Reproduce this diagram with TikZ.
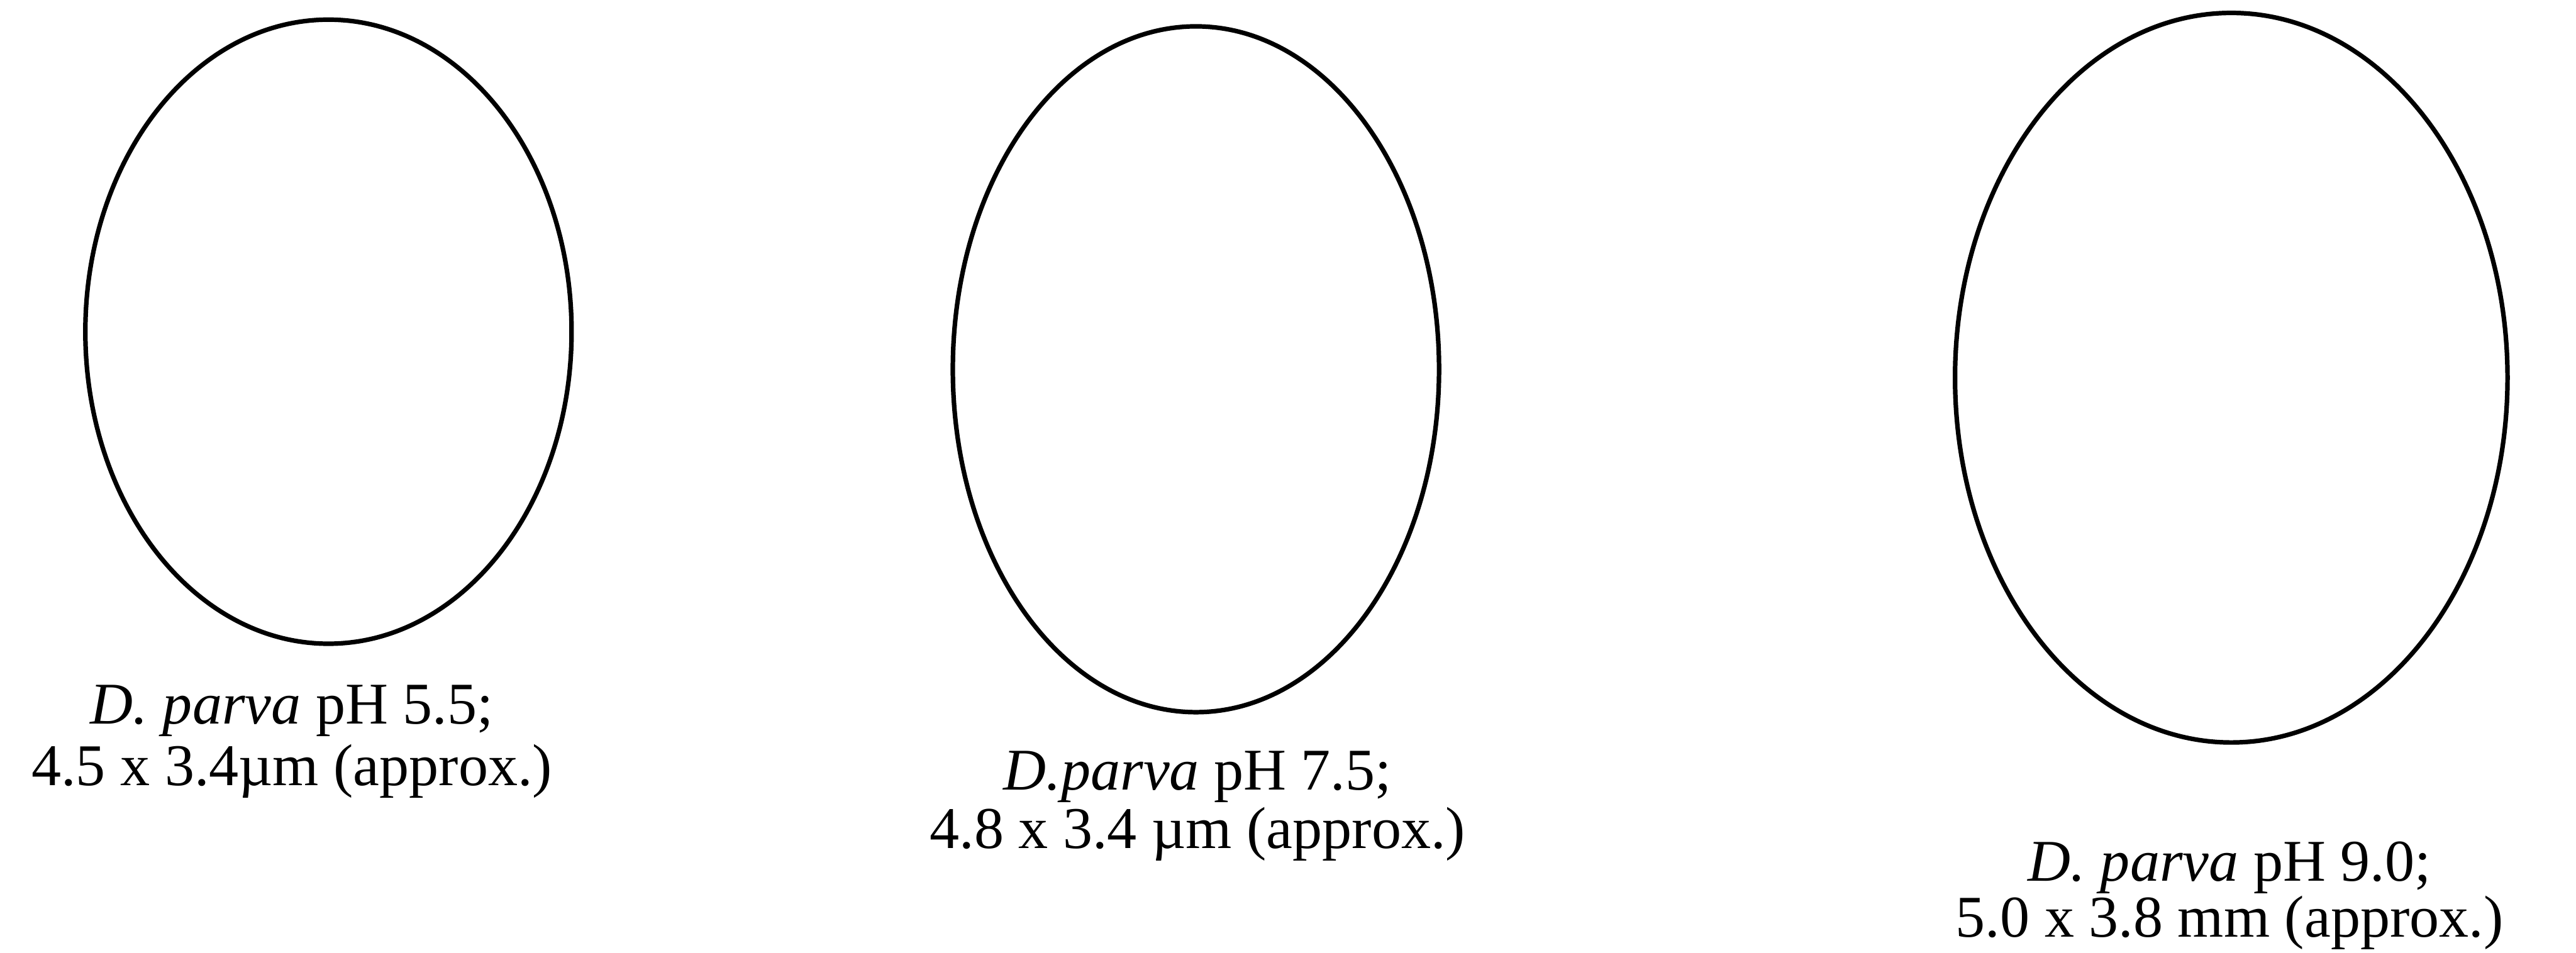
\documentclass[tikz,border=0pt]{standalone}
\usepackage{fontspec}
\setmainfont{Liberation Serif}
\usetikzlibrary{shapes.geometric}
\begin{document}
\begin{tikzpicture}[
  cell/.style={draw=black, line width=2.3pt, ellipse, inner sep=0pt},
  lbl/.style={anchor=base, inner sep=0pt, font=\fontsize{30}{32}\selectfont}
]
\useasboundingbox (0,0) rectangle (45.88,-16.98);
\node[cell, minimum width=8.66cm, minimum height=11.12cm] (e1) at (5.85,-5.91) {};
\node[cell, minimum width=8.66cm, minimum height=12.22cm] (e2) at (21.30,-6.58) {};
\node[cell, minimum width=9.84cm, minimum height=13.00cm] (e3) at (39.74,-6.73) {};
\node[lbl] (t1a) at (5.20,-12.90) {\textit{D. parva} pH 5.5;};
\node[lbl] (t1b) at (5.20,-14.00) {4.5 x 3.4µm (approx.)};
\node[lbl] (t2a) at (21.33,-14.07) {\textit{D.parva} pH 7.5;};
\node[lbl] (t2b) at (21.33,-15.12) {4.8 x 3.4 µm (approx.)};
\node[lbl] (t3a) at (39.71,-15.70) {\textit{D. parva} pH 9.0;};
\node[lbl] (t3b) at (39.71,-16.70) {5.0 x 3.8 mm (approx.)};
\end{tikzpicture}
\end{document}
